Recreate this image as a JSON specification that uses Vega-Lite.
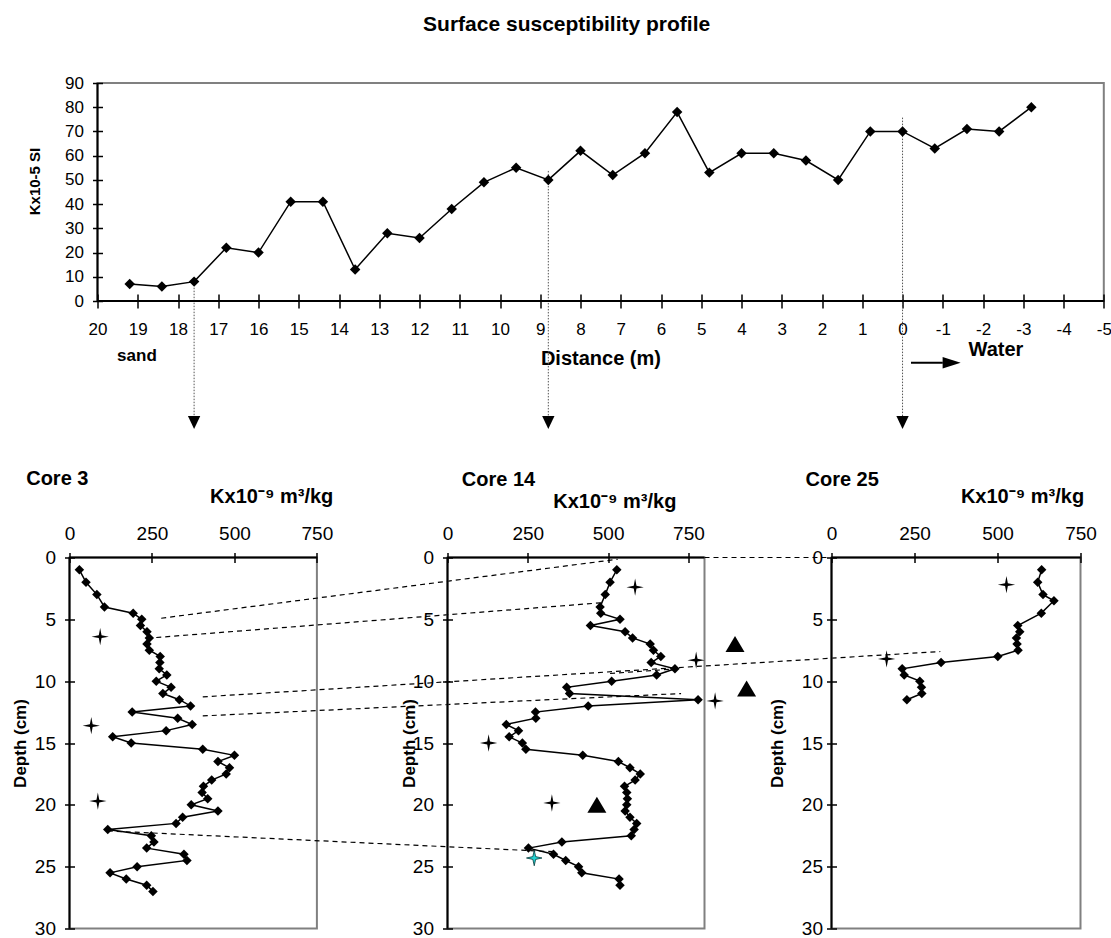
{
"$schema": "https://vega.github.io/schema/vega-lite/v6.json",
"background": "white",
"padding": {"left": 4.5, "top": 13, "right": 0, "bottom": 0},
"config": {
  "font": "Liberation Sans",
  "view": {"stroke": "#808080", "strokeWidth": 2},
  "axis": {"grid": false, "domain": false, "tickColor": "black", "tickWidth": 1.5, "labelColor": "black", "titleColor": "black", "labelFont": "Liberation Sans", "titleFont": "Liberation Sans", "labelFlush": false, "labelOverlap": false},
  "title": {"font": "Liberation Sans", "color": "black"},
  "text": {"font": "Liberation Sans"}
},
"datasets": {
  "surface": [
    {"d": 19.2, "k": 7}, {"d": 18.4, "k": 6}, {"d": 17.6, "k": 8}, {"d": 16.8, "k": 22}, {"d": 16.0, "k": 20},
    {"d": 15.2, "k": 41}, {"d": 14.4, "k": 41}, {"d": 13.6, "k": 13}, {"d": 12.8, "k": 28}, {"d": 12.0, "k": 26},
    {"d": 11.2, "k": 38}, {"d": 10.4, "k": 49}, {"d": 9.6, "k": 55}, {"d": 8.8, "k": 50}, {"d": 8.0, "k": 62},
    {"d": 7.2, "k": 52}, {"d": 6.4, "k": 61}, {"d": 5.6, "k": 78}, {"d": 4.8, "k": 53}, {"d": 4.0, "k": 61},
    {"d": 3.2, "k": 61}, {"d": 2.4, "k": 58}, {"d": 1.6, "k": 50}, {"d": 0.8, "k": 70}, {"d": 0, "k": 70},
    {"d": -0.8, "k": 63}, {"d": -1.6, "k": 71}, {"d": -2.4, "k": 70}, {"d": -3.2, "k": 80}
  ],
  "guides": [
    {"d": 17.6, "k1": 5.5, "k2": -47.5},
    {"d": 8.8, "k1": 53.7, "k2": -47.5},
    {"d": 0, "k1": 75.7, "k2": -47.5}
  ],
  "core3": [
    {"depth": 1, "k": 30}, {"depth": 2, "k": 50}, {"depth": 3, "k": 83}, {"depth": 4, "k": 106}, {"depth": 4.5, "k": 193},
    {"depth": 5, "k": 219}, {"depth": 5.5, "k": 215}, {"depth": 6, "k": 235}, {"depth": 6.5, "k": 242}, {"depth": 7, "k": 235},
    {"depth": 7.5, "k": 242}, {"depth": 8, "k": 275}, {"depth": 8.5, "k": 274}, {"depth": 9, "k": 272}, {"depth": 9.5, "k": 295},
    {"depth": 10, "k": 263}, {"depth": 10.5, "k": 308}, {"depth": 11, "k": 283}, {"depth": 11.5, "k": 333}, {"depth": 12, "k": 367},
    {"depth": 12.5, "k": 190}, {"depth": 13, "k": 328}, {"depth": 13.5, "k": 372}, {"depth": 14, "k": 293}, {"depth": 14.5, "k": 131},
    {"depth": 15, "k": 187}, {"depth": 15.5, "k": 404}, {"depth": 16, "k": 500}, {"depth": 16.5, "k": 450}, {"depth": 17, "k": 485},
    {"depth": 17.5, "k": 475}, {"depth": 18, "k": 431}, {"depth": 18.5, "k": 406}, {"depth": 19, "k": 402}, {"depth": 19.5, "k": 419},
    {"depth": 20, "k": 369}, {"depth": 20.5, "k": 450}, {"depth": 21, "k": 343}, {"depth": 21.5, "k": 323}, {"depth": 22, "k": 116},
    {"depth": 22.5, "k": 248}, {"depth": 23, "k": 256}, {"depth": 23.5, "k": 234}, {"depth": 24, "k": 347}, {"depth": 24.5, "k": 356},
    {"depth": 25, "k": 205}, {"depth": 25.5, "k": 123}, {"depth": 26, "k": 172}, {"depth": 26.5, "k": 234}, {"depth": 27, "k": 253}
  ],
  "core3stars": [
    {"depth": 6.4, "k": 93}, {"depth": 13.6, "k": 66}, {"depth": 19.7, "k": 86}
  ],
  "links3": [
    {"k1": 278, "d1": 4.91, "k2": 1662, "d2": 0.14},
    {"k1": 263, "d1": 6.47, "k2": 1622, "d2": 3.64},
    {"k1": 404, "d1": 11.27, "k2": 2640, "d2": 7.6},
    {"k1": 404, "d1": 12.81, "k2": 1854, "d2": 11.0},
    {"k1": 116, "d1": 22.11, "k2": 1469, "d2": 23.79}
  ],
  "core14": [
    {"depth": 1, "k": 527}, {"depth": 2, "k": 506}, {"depth": 3, "k": 491}, {"depth": 4, "k": 475}, {"depth": 4.5, "k": 477},
    {"depth": 5, "k": 537}, {"depth": 5.5, "k": 445}, {"depth": 6, "k": 553}, {"depth": 6.5, "k": 576}, {"depth": 7, "k": 631},
    {"depth": 7.5, "k": 641}, {"depth": 8, "k": 664}, {"depth": 8.5, "k": 634}, {"depth": 9, "k": 708}, {"depth": 9.5, "k": 651},
    {"depth": 10, "k": 511}, {"depth": 10.5, "k": 371}, {"depth": 11, "k": 380}, {"depth": 11.5, "k": 780}, {"depth": 12, "k": 438},
    {"depth": 12.5, "k": 274}, {"depth": 13, "k": 275}, {"depth": 13.5, "k": 183}, {"depth": 14, "k": 221}, {"depth": 14.5, "k": 192},
    {"depth": 15, "k": 233}, {"depth": 15.5, "k": 244}, {"depth": 16, "k": 421}, {"depth": 16.5, "k": 532}, {"depth": 17, "k": 568},
    {"depth": 17.5, "k": 600}, {"depth": 18, "k": 584}, {"depth": 18.5, "k": 551}, {"depth": 19, "k": 558}, {"depth": 19.5, "k": 560},
    {"depth": 20, "k": 558}, {"depth": 20.5, "k": 553}, {"depth": 21, "k": 568}, {"depth": 21.5, "k": 589}, {"depth": 22, "k": 581},
    {"depth": 22.5, "k": 572}, {"depth": 23, "k": 356}, {"depth": 23.5, "k": 252}, {"depth": 24, "k": 330}, {"depth": 24.5, "k": 368},
    {"depth": 25, "k": 408}, {"depth": 25.5, "k": 418}, {"depth": 26, "k": 534}, {"depth": 26.5, "k": 537}
  ],
  "core14stars": [
    {"depth": 2.4, "k": 584}, {"depth": 8.3, "k": 774}, {"depth": 11.6, "k": 833}, {"depth": 15.0, "k": 128}, {"depth": 19.85, "k": 325}
  ],
  "core14cyan": [
    {"depth": 24.3, "k": 270}
  ],
  "core14tri": [
    {"depth": 7.0, "k": 895}, {"depth": 10.6, "k": 931}, {"depth": 20.0, "k": 465}
  ],
  "links14": [
    {"k1": 800, "d1": 0, "k2": 1186, "d2": 0},
    {"k1": 506, "d1": 9.38, "k2": 698, "d2": 9.03}
  ],
  "core25": [
    {"depth": 1, "k": 633}, {"depth": 2, "k": 621}, {"depth": 3, "k": 637}, {"depth": 3.5, "k": 670}, {"depth": 4.5, "k": 632},
    {"depth": 5.5, "k": 561}, {"depth": 6, "k": 567}, {"depth": 6.5, "k": 557}, {"depth": 7, "k": 559}, {"depth": 7.5, "k": 562},
    {"depth": 8, "k": 501}, {"depth": 8.5, "k": 330}, {"depth": 9, "k": 213}, {"depth": 9.5, "k": 219}, {"depth": 10, "k": 266},
    {"depth": 10.5, "k": 271}, {"depth": 11, "k": 272}, {"depth": 11.5, "k": 227}
  ],
  "core25stars": [
    {"depth": 2.2, "k": 527}, {"depth": 8.2, "k": 166}
  ]
},
"spacing": 14.5,
"vconcat": [
  {
    "spacing": 0,
    "bounds": "flush",
    "hconcat": [
      {"width": 27.4, "height": 1, "view": {"stroke": null}, "data": {"values": []}, "mark": {"type": "point", "opacity": 0}},
      {
        "width": 1006.3, "height": 218,
        "title": {"text": "Surface susceptibility profile", "fontSize": 21, "fontWeight": "bold", "anchor": "middle", "frame": "group", "dx": -34, "offset": 39},
        "layer": [
          {"data": {"values": [{}]},
           "mark": {"type": "rule", "color": "white", "strokeWidth": 1, "clip": false},
           "encoding": {
             "x": {"datum": 22.2534, "type": "quantitative", "scale": {"domain": [20, -5], "nice": false, "zero": false}},
             "x2": {"datum": 22.23},
             "y": {"datum": -61.93, "type": "quantitative", "scale": {"domain": [0, 90], "nice": false, "zero": false}}}},
          {"data": {"name": "guides"},
           "mark": {"type": "rule", "color": "#555555", "strokeWidth": 1, "strokeDash": [1.5, 1.5], "clip": false},
           "encoding": {
             "x": {"field": "d", "type": "quantitative", "scale": {"domain": [20, -5], "nice": false, "zero": false}},
             "y": {"field": "k1", "type": "quantitative", "scale": {"domain": [0, 90], "nice": false, "zero": false}},
             "y2": {"field": "k2"}}},
          {"data": {"name": "guides"},
           "mark": {"type": "point", "shape": "M-0.95,-1L0.95,-1L0,1Z", "filled": true, "color": "black", "opacity": 1, "size": 169, "clip": false},
           "encoding": {
             "x": {"field": "d", "type": "quantitative", "scale": {"domain": [20, -5], "nice": false, "zero": false}},
             "y": {"datum": -50.2, "type": "quantitative", "scale": {"domain": [0, 90], "nice": false, "zero": false}}}},
          {"data": {"name": "surface"},
           "mark": {"type": "line", "color": "black", "strokeWidth": 1.5, "clip": false, "point": {"shape": "diamond", "filled": true, "color": "black", "size": 110, "opacity": 1}},
           "encoding": {
             "x": {"field": "d", "type": "quantitative", "scale": {"domain": [20, -5], "nice": false, "zero": false},
                   "axis": {"values": [20, 19, 18, 17, 16, 15, 14, 13, 12, 11, 10, 9, 8, 7, 6, 5, 4, 3, 2, 1, 0, -1, -2, -3, -4, -5],
                            "labelExpr": "'' + datum.value", "labelFontSize": 17, "labelPadding": 13, "tickSize": 14, "offset": -7, "labelOverlap": false,
                            "title": "Distance (m)", "titleFontSize": 20, "titleFontWeight": "bold", "titleX": 502.9, "titleY": 70,
                            "titleBaseline": "alphabetic", "titleAlign": "center"}},
             "y": {"field": "k", "type": "quantitative", "scale": {"domain": [0, 90], "nice": false, "zero": false},
                   "axis": {"values": [0, 10, 20, 30, 40, 50, 60, 70, 80, 90], "tickCount": 10, "labelFontSize": 17, "labelPadding": 9, "tickSize": 10, "offset": -5, "labelOverlap": false,
                            "title": "Kx10-5 SI", "titleFontSize": 15, "titleFontWeight": "bold", "titleX": -63.3, "titleY": 98,
                            "titleBaseline": "alphabetic", "titleAlign": "center"}}}},
          {"data": {"values": [{}]},
           "mark": {"type": "rule", "color": "black", "strokeWidth": 2},
           "encoding": {"y": {"datum": 0, "type": "quantitative", "scale": {"domain": [0, 90], "nice": false, "zero": false}}}},
          {"data": {"values": [{}]},
           "mark": {"type": "rule", "color": "black", "strokeWidth": 2},
           "encoding": {"x": {"datum": 20, "type": "quantitative", "scale": {"domain": [20, -5], "nice": false, "zero": false}}}},
          {"data": {"values": [{}]},
           "mark": {"type": "text", "text": "sand", "fontSize": 17, "fontWeight": "bold", "align": "center", "baseline": "middle", "clip": false, "color": "black"},
           "encoding": {
             "x": {"datum": 19.02, "type": "quantitative", "scale": {"domain": [20, -5], "nice": false, "zero": false}},
             "y": {"datum": -22.8, "type": "quantitative", "scale": {"domain": [0, 90], "nice": false, "zero": false}}}},
          {"data": {"values": [{}]},
           "mark": {"type": "text", "text": "Water", "fontSize": 20, "fontWeight": "bold", "align": "center", "baseline": "middle", "clip": false, "color": "black"},
           "encoding": {
             "x": {"datum": -2.32, "type": "quantitative", "scale": {"domain": [20, -5], "nice": false, "zero": false}},
             "y": {"datum": -20.1, "type": "quantitative", "scale": {"domain": [0, 90], "nice": false, "zero": false}}}},
          {"data": {"values": [{}]},
           "mark": {"type": "rule", "color": "black", "strokeWidth": 2, "clip": false},
           "encoding": {
             "x": {"datum": -0.21, "type": "quantitative", "scale": {"domain": [20, -5], "nice": false, "zero": false}},
             "x2": {"datum": -1.0},
             "y": {"datum": -25.5, "type": "quantitative", "scale": {"domain": [0, 90], "nice": false, "zero": false}}}},
          {"data": {"values": [{}]},
           "mark": {"type": "point", "shape": "M-1,-0.65L1,0L-1,0.65Z", "filled": true, "color": "black", "opacity": 1, "size": 324, "clip": false},
           "encoding": {
             "x": {"datum": -1.22, "type": "quantitative", "scale": {"domain": [20, -5], "nice": false, "zero": false}},
             "y": {"datum": -25.5, "type": "quantitative", "scale": {"domain": [0, 90], "nice": false, "zero": false}}}}
        ]
      }
    ]
  },
  {
    "spacing": 0,
    "bounds": "flush",
    "hconcat": [
      {
        "width": 247.4, "height": 371,
        "title": {"text": "Core 3", "anchor": "start", "frame": "group", "dx": -43.3, "fontSize": 20, "fontWeight": "bold", "offset": -2.6},
        "layer": [
          {"data": {"values": [{}]},
           "mark": {"type": "rule", "color": "white", "strokeWidth": 1, "clip": false},
           "encoding": {
             "x": {"datum": -191.9, "type": "quantitative", "scale": {"domain": [0, 750], "nice": false, "zero": false}},
             "x2": {"datum": -189},
             "y": {"datum": 15, "type": "quantitative", "scale": {"domain": [0, 30], "reverse": true, "nice": false, "zero": false}}}},
          {"data": {"name": "links3"},
           "mark": {"type": "rule", "color": "black", "strokeWidth": 1.2, "strokeDash": [5, 4], "clip": false},
           "encoding": {
             "x": {"field": "k1", "type": "quantitative", "scale": {"domain": [0, 750], "nice": false, "zero": false}},
             "x2": {"field": "k2"},
             "y": {"field": "d1", "type": "quantitative", "scale": {"domain": [0, 30], "reverse": true, "nice": false, "zero": false}},
             "y2": {"field": "d2"}}},
          {"data": {"name": "core3"},
           "mark": {"type": "line", "color": "black", "strokeWidth": 1.5, "clip": false, "point": {"shape": "diamond", "filled": true, "color": "black", "size": 90, "opacity": 1}},
           "encoding": {
             "x": {"field": "k", "type": "quantitative", "scale": {"domain": [0, 750], "nice": false, "zero": false},
                   "axis": {"orient": "top", "values": [0, 250, 500, 750], "labelFontSize": 19, "labelPadding": 9, "tickSize": 10, "offset": -5, "labelOverlap": false,
                            "title": "Kx10⁻⁹ m³/kg", "titleFontSize": 20, "titleFontWeight": "bold", "titleX": 201.7, "titleY": -60.2,
                            "titleBaseline": "alphabetic", "titleAlign": "center"}},
             "y": {"field": "depth", "type": "quantitative", "scale": {"domain": [0, 30], "reverse": true, "nice": false, "zero": false},
                   "axis": {"values": [0, 5, 10, 15, 20, 25, 30], "labelFontSize": 19, "labelPadding": 9, "tickSize": 10, "offset": -5, "labelOverlap": false,
                            "title": "Depth (cm)", "titleFontSize": 17, "titleFontWeight": "bold", "titleX": -49.5, "titleY": 185.5,
                            "titleBaseline": "alphabetic", "titleAlign": "center"}},
             "order": {"field": "depth"}}},
          {"data": {"name": "core3stars"},
           "mark": {"type": "point", "shape": "M0,-1L0.16,-0.16L1,0L0.16,0.16L0,1L-0.16,0.16L-1,0L-0.16,-0.16Z", "filled": true, "color": "black", "opacity": 1, "size": 300, "clip": false},
           "encoding": {
             "x": {"field": "k", "type": "quantitative", "scale": {"domain": [0, 750], "nice": false, "zero": false}},
             "y": {"field": "depth", "type": "quantitative", "scale": {"domain": [0, 30], "reverse": true, "nice": false, "zero": false}}}},
          {"data": {"values": [{}]},
           "mark": {"type": "rule", "color": "black", "strokeWidth": 2},
           "encoding": {"y": {"datum": 0, "type": "quantitative", "scale": {"domain": [0, 30], "reverse": true, "nice": false, "zero": false}}}},
          {"data": {"values": [{}]},
           "mark": {"type": "rule", "color": "black", "strokeWidth": 2},
           "encoding": {"x": {"datum": 0, "type": "quantitative", "scale": {"domain": [0, 750], "nice": false, "zero": false}}}}
        ]
      },
      {"width": 130, "height": 1, "view": {"stroke": null}, "data": {"values": []}, "mark": {"type": "point", "opacity": 0}},
      {
        "width": 257, "height": 371,
        "title": {"text": "Core 14", "anchor": "start", "frame": "group", "dx": 14.3, "fontSize": 20, "fontWeight": "bold", "offset": 1.1},
        "layer": [
          {"data": {"name": "links14"},
           "mark": {"type": "rule", "color": "black", "strokeWidth": 1.2, "strokeDash": [5, 4], "clip": false},
           "encoding": {
             "x": {"field": "k1", "type": "quantitative", "scale": {"domain": [0, 800], "nice": false, "zero": false}},
             "x2": {"field": "k2"},
             "y": {"field": "d1", "type": "quantitative", "scale": {"domain": [0, 30], "reverse": true, "nice": false, "zero": false}},
             "y2": {"field": "d2"}}},
          {"data": {"name": "core14"},
           "mark": {"type": "line", "color": "black", "strokeWidth": 1.5, "clip": false, "point": {"shape": "diamond", "filled": true, "color": "black", "size": 90, "opacity": 1}},
           "encoding": {
             "x": {"field": "k", "type": "quantitative", "scale": {"domain": [0, 800], "nice": false, "zero": false},
                   "axis": {"orient": "top", "values": [0, 250, 500, 750], "labelFontSize": 19, "labelPadding": 9, "tickSize": 10, "offset": -5, "labelOverlap": false,
                            "title": "Kx10⁻⁹ m³/kg", "titleFontSize": 20, "titleFontWeight": "bold", "titleX": 166.8, "titleY": -55.2,
                            "titleBaseline": "alphabetic", "titleAlign": "center"}},
             "y": {"field": "depth", "type": "quantitative", "scale": {"domain": [0, 30], "reverse": true, "nice": false, "zero": false},
                   "axis": {"values": [0, 5, 10, 15, 20, 25, 30], "labelFontSize": 19, "labelPadding": 9, "tickSize": 10, "offset": -5, "labelOverlap": false,
                            "title": "Depth (cm)", "titleFontSize": 17, "titleFontWeight": "bold", "titleX": -38.5, "titleY": 185.5,
                            "titleBaseline": "alphabetic", "titleAlign": "center"}},
             "order": {"field": "depth"}}},
          {"data": {"name": "core14stars"},
           "mark": {"type": "point", "shape": "M0,-1L0.16,-0.16L1,0L0.16,0.16L0,1L-0.16,0.16L-1,0L-0.16,-0.16Z", "filled": true, "color": "black", "opacity": 1, "size": 300, "clip": false},
           "encoding": {
             "x": {"field": "k", "type": "quantitative", "scale": {"domain": [0, 800], "nice": false, "zero": false}},
             "y": {"field": "depth", "type": "quantitative", "scale": {"domain": [0, 30], "reverse": true, "nice": false, "zero": false}}}},
          {"data": {"name": "core14cyan"},
           "mark": {"type": "point", "shape": "M0,-1L0.18,-0.18L1,0L0.18,0.18L0,1L-0.18,0.18L-1,0L-0.18,-0.18Z", "filled": true, "fill": "#22d3d3", "stroke": "#0a3a3a", "strokeWidth": 0.8, "opacity": 1, "size": 240, "clip": false},
           "encoding": {
             "x": {"field": "k", "type": "quantitative", "scale": {"domain": [0, 800], "nice": false, "zero": false}},
             "y": {"field": "depth", "type": "quantitative", "scale": {"domain": [0, 30], "reverse": true, "nice": false, "zero": false}}}},
          {"data": {"name": "core14tri"},
           "mark": {"type": "point", "shape": "M0,-0.84L1,0.84L-1,0.84Z", "filled": true, "color": "black", "opacity": 1, "size": 361, "clip": false},
           "encoding": {
             "x": {"field": "k", "type": "quantitative", "scale": {"domain": [0, 800], "nice": false, "zero": false}},
             "y": {"field": "depth", "type": "quantitative", "scale": {"domain": [0, 30], "reverse": true, "nice": false, "zero": false}}}},
          {"data": {"values": [{}]},
           "mark": {"type": "rule", "color": "black", "strokeWidth": 2},
           "encoding": {"y": {"datum": 0, "type": "quantitative", "scale": {"domain": [0, 30], "reverse": true, "nice": false, "zero": false}}}},
          {"data": {"values": [{}]},
           "mark": {"type": "rule", "color": "black", "strokeWidth": 2},
           "encoding": {"x": {"datum": 0, "type": "quantitative", "scale": {"domain": [0, 800], "nice": false, "zero": false}}}}
        ]
      },
      {"width": 126.6, "height": 1, "view": {"stroke": null}, "data": {"values": []}, "mark": {"type": "point", "opacity": 0}},
      {
        "width": 249, "height": 371,
        "title": {"text": "Core 25", "anchor": "start", "frame": "group", "dx": -26, "fontSize": 20, "fontWeight": "bold", "offset": -3.3},
        "layer": [
          {"data": {"name": "core25"},
           "mark": {"type": "line", "color": "black", "strokeWidth": 1.5, "clip": false, "point": {"shape": "diamond", "filled": true, "color": "black", "size": 90, "opacity": 1}},
           "encoding": {
             "x": {"field": "k", "type": "quantitative", "scale": {"domain": [0, 750], "nice": false, "zero": false},
                   "axis": {"orient": "top", "values": [0, 250, 500, 750], "labelFontSize": 19, "labelPadding": 9, "tickSize": 10, "offset": -5, "labelOverlap": false,
                            "title": "Kx10⁻⁹ m³/kg", "titleFontSize": 20, "titleFontWeight": "bold", "titleX": 190.5, "titleY": -60.2,
                            "titleBaseline": "alphabetic", "titleAlign": "center"}},
             "y": {"field": "depth", "type": "quantitative", "scale": {"domain": [0, 30], "reverse": true, "nice": false, "zero": false},
                   "axis": {"values": [0, 5, 10, 15, 20, 25, 30], "labelFontSize": 19, "labelPadding": 4, "tickSize": 10, "offset": -5, "labelOverlap": false,
                            "title": "Depth (cm)", "titleFontSize": 17, "titleFontWeight": "bold", "titleX": -53.8, "titleY": 185.5,
                            "titleBaseline": "alphabetic", "titleAlign": "center"}},
             "order": {"field": "depth"}}},
          {"data": {"name": "core25stars"},
           "mark": {"type": "point", "shape": "M0,-1L0.16,-0.16L1,0L0.16,0.16L0,1L-0.16,0.16L-1,0L-0.16,-0.16Z", "filled": true, "color": "black", "opacity": 1, "size": 300, "clip": false},
           "encoding": {
             "x": {"field": "k", "type": "quantitative", "scale": {"domain": [0, 750], "nice": false, "zero": false}},
             "y": {"field": "depth", "type": "quantitative", "scale": {"domain": [0, 30], "reverse": true, "nice": false, "zero": false}}}},
          {"data": {"values": [{}]},
           "mark": {"type": "rule", "color": "black", "strokeWidth": 2},
           "encoding": {"y": {"datum": 0, "type": "quantitative", "scale": {"domain": [0, 30], "reverse": true, "nice": false, "zero": false}}}},
          {"data": {"values": [{}]},
           "mark": {"type": "rule", "color": "black", "strokeWidth": 2},
           "encoding": {"x": {"datum": 0, "type": "quantitative", "scale": {"domain": [0, 750], "nice": false, "zero": false}}}}
        ]
      }
    ]
  }
]
}
